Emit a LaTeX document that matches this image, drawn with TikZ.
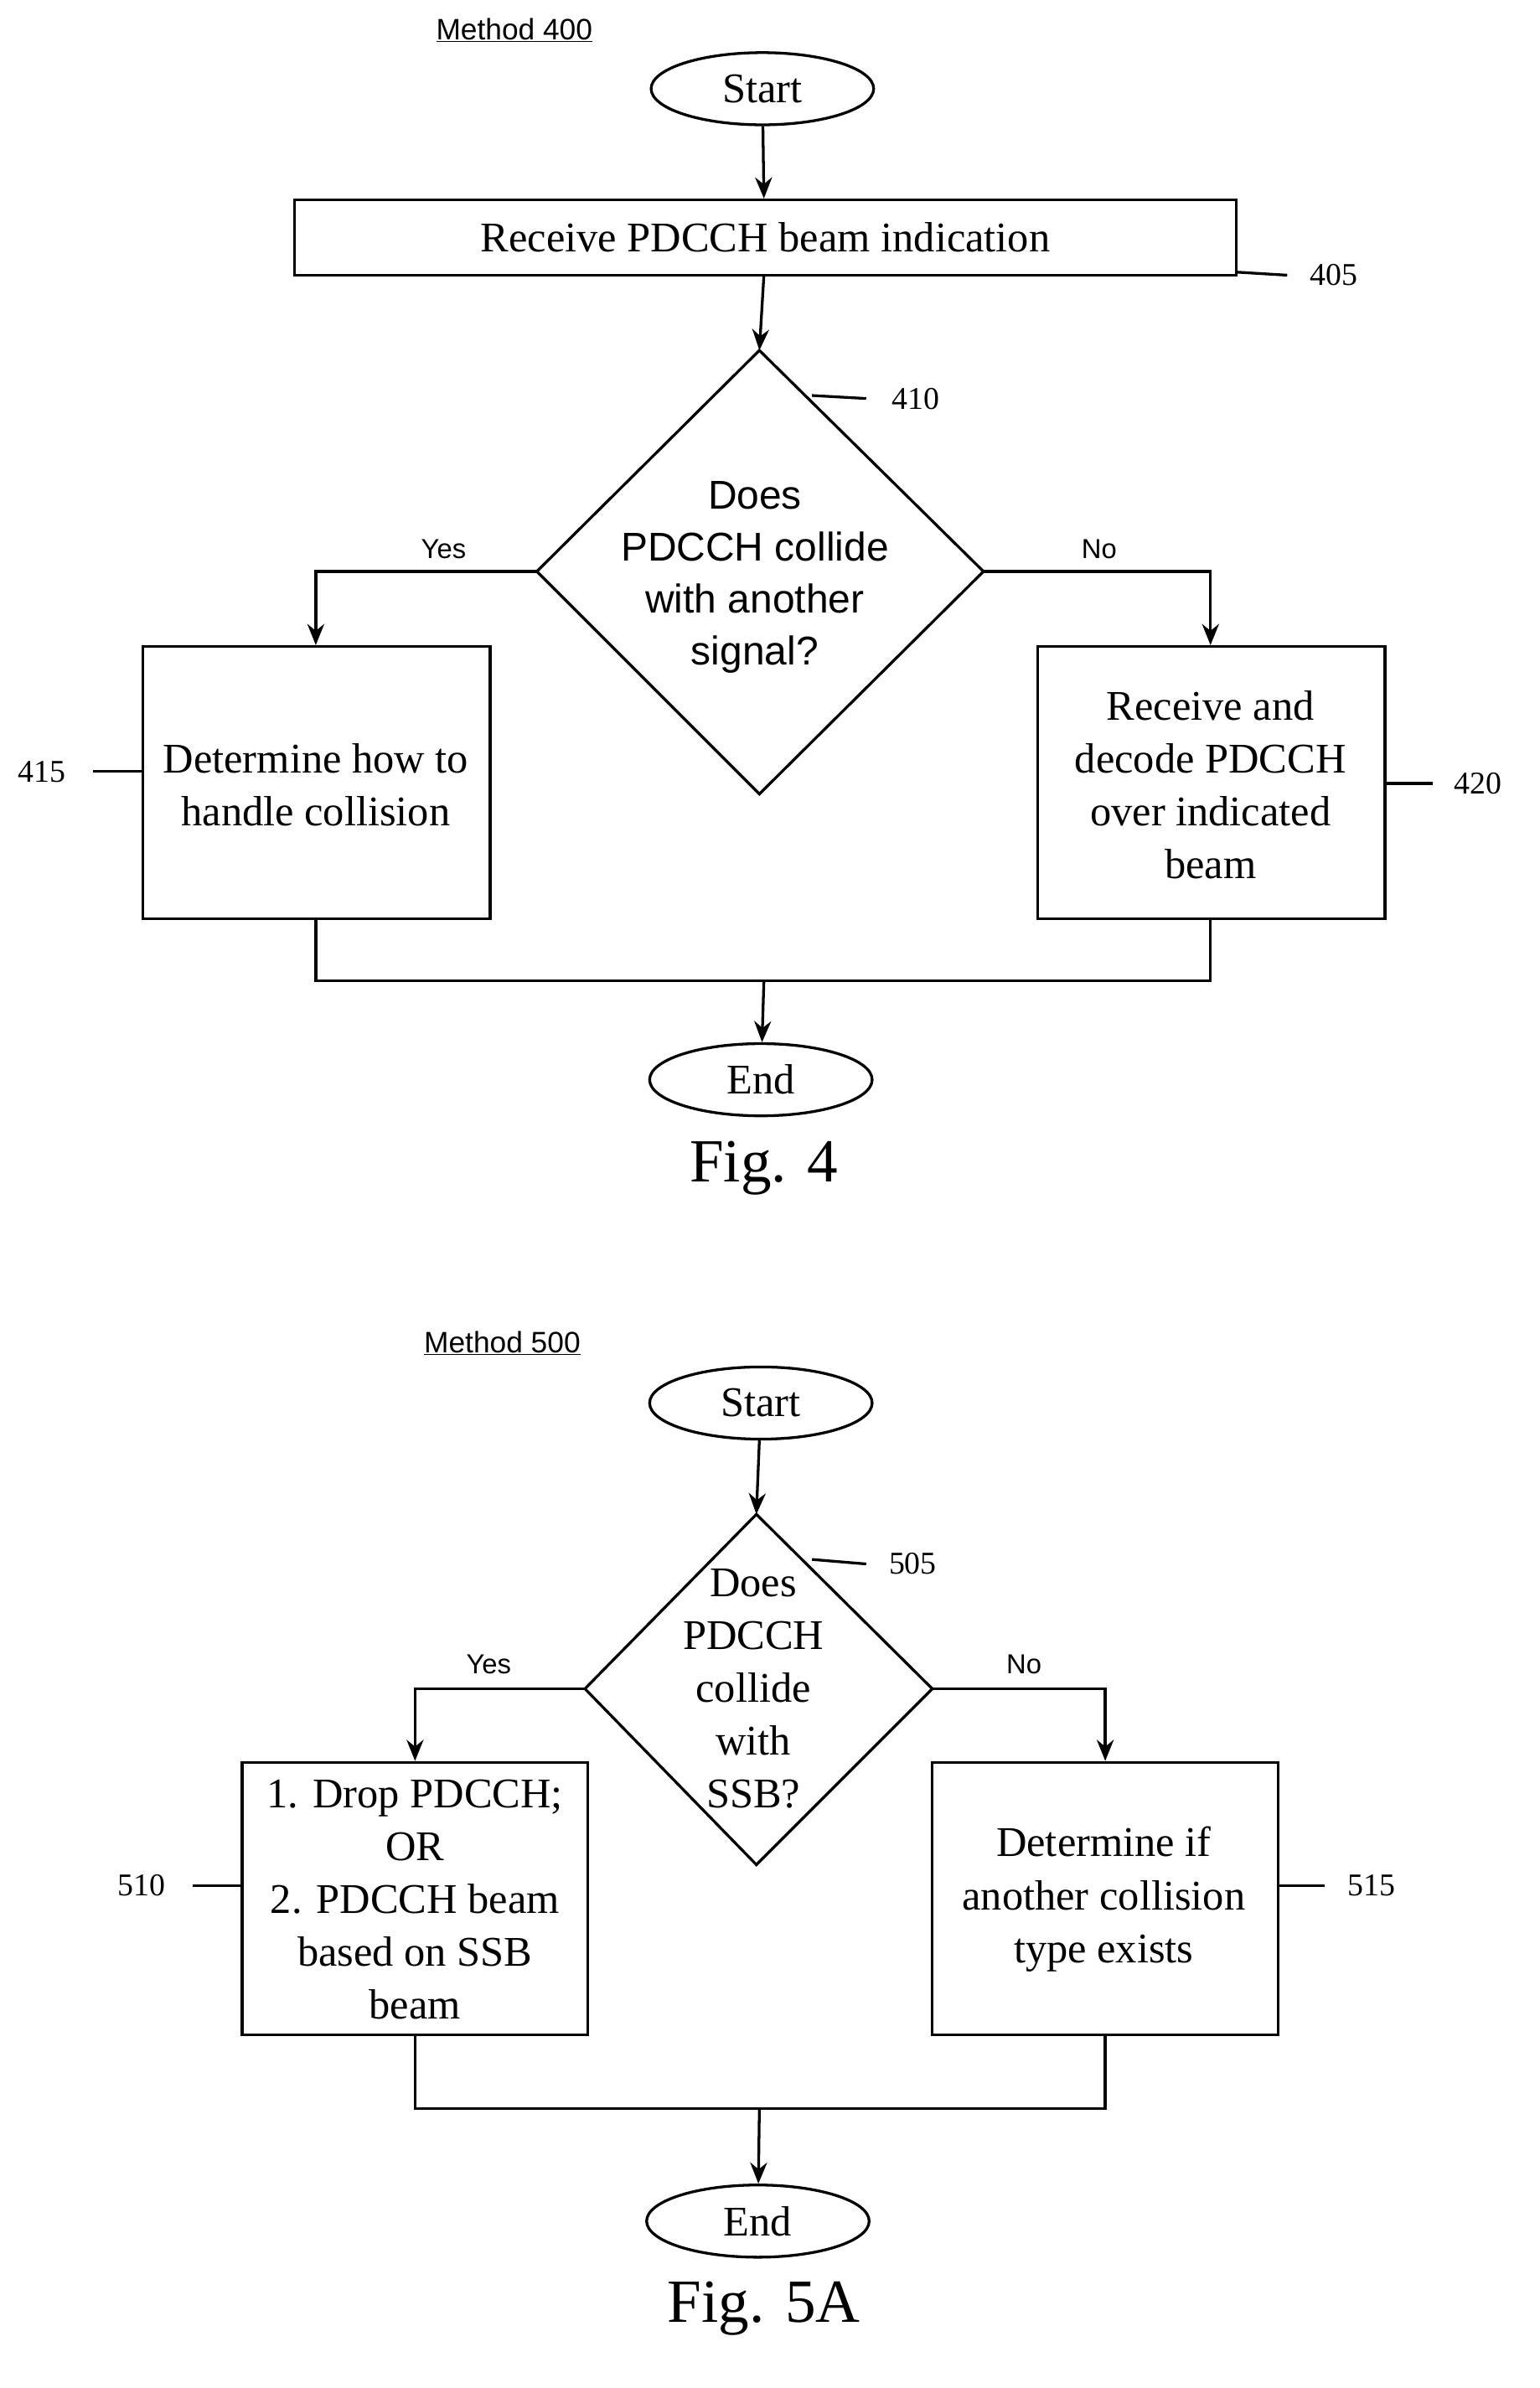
\documentclass[tikz,border=0pt]{standalone}
\usepackage{fontspec}
\setmainfont{Liberation Serif}
\setsansfont{Liberation Sans}
\usetikzlibrary{shapes.geometric,arrows.meta}
\begin{document}
\begin{tikzpicture}[x=0.05cm,y=-0.05cm,line width=2.6pt,
  box/.style={draw,rectangle,minimum width=#1,align=center,inner sep=0pt},
  txt/.style={font=\fontsize{40}{50}\selectfont,align=center},
  dtxt/.style={font=\sffamily\fontsize{38}{49}\selectfont,align=center},
  lab/.style={font=\fontsize{30}{34}\selectfont},
  yn/.style={font=\sffamily\fontsize{26}{30}\selectfont},
  meth/.style={font=\sffamily\fontsize{28}{32}\selectfont},
  fig/.style={font=\fontsize{58}{64}\selectfont},
  term/.style={draw,ellipse,minimum width=148*0.05cm,minimum height=48*0.05cm,inner sep=0pt,font=\fontsize{40}{48}\selectfont},
  arr/.style={-{Stealth[length=20pt,width=16pt]}}]
\useasboundingbox (0,0) rectangle (1024,1588);
% ---------- Fig 4
\node[meth] (m4) at (342,20) {\underline{Method 400}};
\node[term] (s4) at (507,59) {Start};
\draw (196,133) rectangle (822,183);
\node[txt] (b405) at (509,158) {Receive PDCCH beam indication};
\coordinate (b405b) at (508,183);
\node[lab] (l405) at (887,183) {405};
\draw (823,181) -- (856,183);
\draw (505,233) -- (654,380) -- (505,528) -- (357,380) -- cycle;
\coordinate (d410t) at (505,233);
\coordinate (d410l) at (357,380);
\coordinate (d410r) at (654,380);
\node[dtxt] (t410) at (502,384) {Does\\PDCCH collide\\with another\\signal?};
\node[lab] (l410) at (609,265) {410};
\draw (540,263) -- (576,265);
\draw[arr] (s4) -- (508,132);
\draw[arr] (b405b) -- (d410t);
\draw (95,430) rectangle (326,611);
\node[txt] (b415) at (210,522) {Determine how to\\handle collision};
\draw (690,430) rectangle (921,611);
\node[txt] (b420) at (805,522) {Receive and\\decode PDCCH\\over indicated\\beam};
\node[lab] (l415) at (28,513) {415};
\draw (62,513) -- (95,513);
\node[lab] (l420) at (983,521) {420};
\draw (921,521) -- (953,521);
\draw[arr] (d410l) -- (210,380) -- (210,429);
\draw[arr] (d410r) -- (805,380) -- (805,429);
\node[yn] (y4) at (295,365) {Yes};
\node[yn] (n4) at (731,365) {No};
\draw (210,611) -- (210,652) -- (805,652) -- (805,611);
\node[term] (e4) at (506,718) {End};
\draw[arr] (508,652) -- (e4);
\node[fig] (f4) at (508,777) {Fig. 4};
% ---------- Fig 5A
\node[meth] (m5) at (334,893) {\underline{Method 500}};
\node[term] (s5) at (506,933) {Start};
\draw (503,1007) -- (620,1123) -- (503,1240) -- (389,1123) -- cycle;
\coordinate (d505t) at (503,1007);
\coordinate (d505l) at (389,1123);
\coordinate (d505r) at (620,1123);
\node[txt,font=\fontsize{40}{50}\selectfont] (t505) at (501,1123) {Does\\PDCCH\\collide\\with\\SSB?};
\draw[arr] (s5) -- (d505t);
\node[lab] (l505) at (607,1040) {505};
\draw (540,1037) -- (576,1040);
\draw (161,1172) rectangle (391,1353);
\node[txt] (b510) at (276,1263) {1. Drop PDCCH;\\OR\\2. PDCCH beam\\based on SSB\\beam};
\draw (620,1172) rectangle (850,1353);
\node[txt] (b515) at (734,1263) {Determine if\\another collision\\type exists};
\node[lab] (l510) at (94,1254) {510};
\draw (128,1254) -- (161,1254);
\node[lab] (l515) at (912,1254) {515};
\draw (850,1254) -- (881,1254);
\draw[arr] (d505l) -- (276,1123) -- (276,1171);
\draw[arr] (d505r) -- (735,1123) -- (735,1171);
\node[yn] (y5) at (325,1107) {Yes};
\node[yn] (n5) at (681,1107) {No};
\draw (276,1353) -- (276,1402) -- (735,1402) -- (735,1353);
\node[term] (e5) at (504,1477) {End};
\draw[arr] (505,1402) -- (e5);
\node[fig] (f5) at (508,1535) {Fig. 5A};
\end{tikzpicture}
\end{document}
